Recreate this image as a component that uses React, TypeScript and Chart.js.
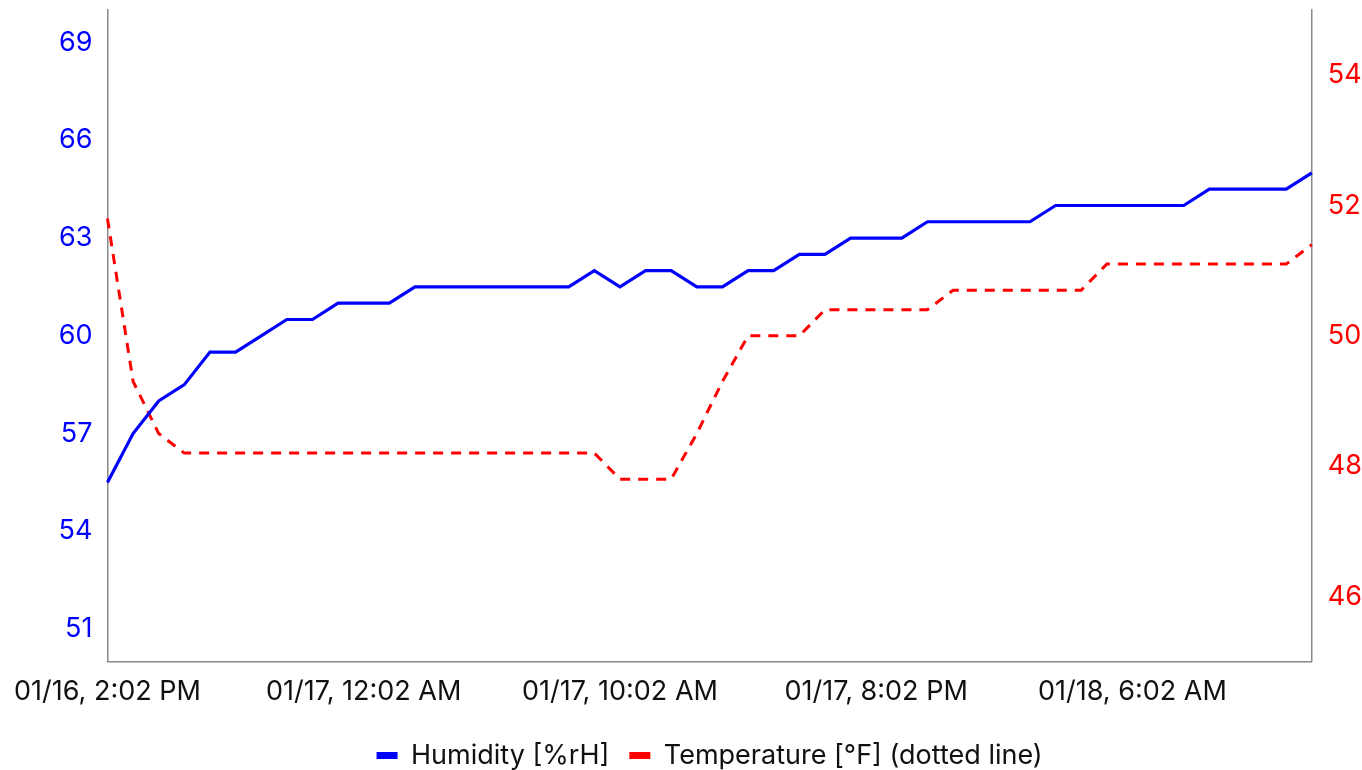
import React, { useEffect, useRef } from "react";
import { Chart, registerables } from "chart.js";

Chart.register(...registerables);

const timeLabels: string[] = [
  "01/16, 2:02 PM", "01/16, 3:02 PM", "01/16, 4:02 PM", "01/16, 5:02 PM", "01/16, 6:02 PM",
  "01/16, 7:02 PM", "01/16, 8:02 PM", "01/16, 9:02 PM", "01/16, 10:02 PM", "01/16, 11:02 PM",
  "01/17, 12:02 AM", "01/17, 1:02 AM", "01/17, 2:02 AM", "01/17, 3:02 AM", "01/17, 4:02 AM",
  "01/17, 5:02 AM", "01/17, 6:02 AM", "01/17, 7:02 AM", "01/17, 8:02 AM", "01/17, 9:02 AM",
  "01/17, 10:02 AM", "01/17, 11:02 AM", "01/17, 12:02 PM", "01/17, 1:02 PM", "01/17, 2:02 PM",
  "01/17, 3:02 PM", "01/17, 4:02 PM", "01/17, 5:02 PM", "01/17, 6:02 PM", "01/17, 7:02 PM",
  "01/17, 8:02 PM", "01/17, 9:02 PM", "01/17, 10:02 PM", "01/17, 11:02 PM", "01/18, 12:02 AM",
  "01/18, 1:02 AM", "01/18, 2:02 AM", "01/18, 3:02 AM", "01/18, 4:02 AM", "01/18, 5:02 AM",
  "01/18, 6:02 AM", "01/18, 7:02 AM", "01/18, 8:02 AM", "01/18, 9:02 AM", "01/18, 10:02 AM",
  "01/18, 11:02 AM", "01/18, 12:02 PM", "01/18, 1:02 PM",
];

const humidity: number[] = [
  55.5, 57, 58, 58.5, 59.5, 59.5, 60, 60.5, 60.5, 61,
  61, 61, 61.5, 61.5, 61.5, 61.5, 61.5, 61.5, 61.5, 62,
  61.5, 62, 62, 61.5, 61.5, 62, 62, 62.5, 62.5, 63,
  63, 63, 63.5, 63.5, 63.5, 63.5, 63.5, 64, 64, 64,
  64, 64, 64, 64.5, 64.5, 64.5, 64.5, 65,
];

const temperature: number[] = [
  51.8, 49.3, 48.5, 48.2, 48.2, 48.2, 48.2, 48.2, 48.2, 48.2,
  48.2, 48.2, 48.2, 48.2, 48.2, 48.2, 48.2, 48.2, 48.2, 48.2,
  47.8, 47.8, 47.8, 48.5, 49.3, 50, 50, 50, 50.4, 50.4,
  50.4, 50.4, 50.4, 50.7, 50.7, 50.7, 50.7, 50.7, 50.7, 51.1,
  51.1, 51.1, 51.1, 51.1, 51.1, 51.1, 51.1, 51.4,
];

const humidityTicks: number[] = [51, 54, 57, 60, 63, 66, 69];
const temperatureTicks: number[] = [46, 48, 50, 52, 54];
const xLabelEvery = 10;

const FONT = "Inter, 'Liberation Sans', sans-serif";
const FS = 27;

export default function App() {
  const canvasRef = useRef<HTMLCanvasElement | null>(null);

  useEffect(() => {
    if (!canvasRef.current) return;
    const noVPad = (s: any) => {
      s.paddingTop = 0;
      s.paddingBottom = 0;
    };
    const chart = new Chart(canvasRef.current, {
      type: "line",
      data: {
        labels: timeLabels,
        datasets: [
          {
            label: "Humidity [%rH]",
            data: humidity,
            borderColor: "#0000ff",
            backgroundColor: "#0000ff",
            borderWidth: 3.2,
            pointRadius: 0,
            tension: 0,
            yAxisID: "yH",
          },
          {
            label: "Temperature [°F] (dotted line)",
            data: temperature,
            borderColor: "#ff0000",
            backgroundColor: "#ff0000",
            borderWidth: 3,
            borderDash: [10, 8],
            pointRadius: 0,
            tension: 0,
            yAxisID: "yT",
          },
        ],
      },
      options: {
        animation: false,
        responsive: true,
        maintainAspectRatio: false,
        layout: { padding: { left: 12, right: -16, top: 10, bottom: -9 } },
        plugins: {
          tooltip: { enabled: false },
          legend: {
            position: "bottom",
            fullSize: false,
            labels: {
              boxWidth: 21,
              boxHeight: 7,
              padding: 20,
              color: "#111",
              font: { family: FONT, size: FS },
              generateLabels: (c: any) =>
                Chart.defaults.plugins.legend.labels
                  .generateLabels(c)
                  .map((it: any) => ({ ...it, lineDash: [], lineWidth: 0 })),
            },
          },
        },
        scales: {
          x: {
            grid: { display: false, drawTicks: false },
            border: { display: true, color: "#888", width: 1.5 },
            ticks: {
              autoSkip: false,
              maxRotation: 0,
              minRotation: 0,
              padding: 14,
              color: "#111",
              font: { family: FONT, size: FS },
              callback: (_v: any, i: number) => (i % xLabelEvery === 0 ? timeLabels[i] : ""),
            },
          },
          yH: {
            position: "left",
            min: 50,
            max: 70,
            grid: { display: false, drawTicks: false },
            border: { display: true, color: "#888", width: 1.5 },
            afterBuildTicks: (axis: any) => {
              axis.ticks = humidityTicks.map((v) => ({ value: v }));
            },
            afterFit: noVPad,
            ticks: {
              padding: 15,
              color: "#0000ff",
              font: { family: FONT, size: FS },
            },
          },
          yT: {
            position: "right",
            min: 45,
            max: 55,
            grid: { display: false, drawTicks: false },
            border: { display: true, color: "#888", width: 1.5 },
            afterBuildTicks: (axis: any) => {
              axis.ticks = temperatureTicks.map((v) => ({ value: v }));
            },
            afterFit: noVPad,
            ticks: {
              padding: 16,
              color: "#ff0000",
              font: { family: FONT, size: FS },
            },
          },
        },
      },
    });
    return () => chart.destroy();
  }, []);

  return (
    <div style={{ position: "absolute", left: 0, top: 0, width: 1362, height: 770 }}>
      <canvas ref={canvasRef} />
    </div>
  );
}
